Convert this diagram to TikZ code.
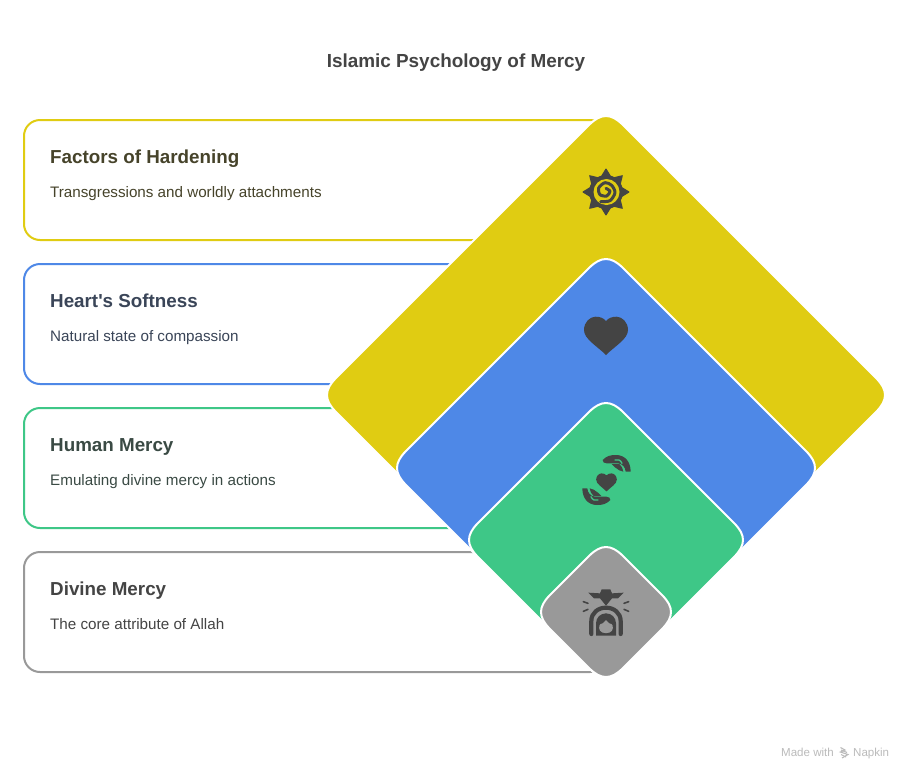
\documentclass[tikz,border=0pt]{standalone}
\usepackage{fontspec}
\setmainfont{Liberation Sans}
\newfontfamily\plainsans{Liberation Sans}
\definecolor{cyel}{HTML}{E0CC12}
\definecolor{cblu}{HTML}{4E88E7}
\definecolor{cgrn}{HTML}{3EC787}
\definecolor{cgry}{HTML}{999999}
\definecolor{icon}{HTML}{444444}
\definecolor{tyel}{HTML}{46432A}
\definecolor{tblu}{HTML}{3A4558}
\definecolor{tgrn}{HTML}{3A4A44}
\definecolor{tgry}{HTML}{444444}
\definecolor{wmark}{HTML}{BBBBBB}
\newcommand{\heartpath}{(0,20) .. controls (-9,11) and (-22,4) .. (-22,-5) .. controls (-22,-13) and (-16,-18.3) .. (-10.5,-18.3) .. controls (-6,-18.3) and (-2.5,-17) .. (0,-14) .. controls (2.5,-17) and (6,-18.3) .. (10.5,-18.3) .. controls (16,-18.3) and (22,-13) .. (22,-5) .. controls (22,4) and (9,11) .. (0,20) -- cycle}
\newcommand{\handpath}{(128,60) .. controls (140,48) and (150,45) .. (168,45) .. controls (195,45) and (212,65) .. (212,95) -- (197,95) .. controls (196,82) and (188,72) .. (175,70) -- (140,70) .. controls (132,70) and (128,66) .. (128,60) -- cycle}
\newcommand{\handicon}{%
\fill[icon] \handpath;
\fill[icon] (155,72) -- (178,72) .. controls (184,78) and (190,86) .. (190,95) -- (178,91) .. controls (170,85) and (160,80) .. (155,72) -- cycle;
\draw[cgrn,line width=1.3pt,line cap=round] (165,60) .. controls (172,56) and (182,60) .. (186,70);}
% soft diamond: centre x, centre y, half diagonal of the sharp shape, colour
\newcommand{\softdiamond}[4]{%
\pgfmathsetmacro{\da}{#3-17}\pgfmathsetmacro{\db}{#3-5}%
\begin{scope}[shift={(#1,#2)}]
\draw[dia=#4] (-17,-\da) .. controls (-5,-\db) and (5,-\db) .. (17,-\da) -- (\da,-17) .. controls (\db,-5) and (\db,5) .. (\da,17) -- (17,\da) .. controls (5,\db) and (-5,\db) .. (-17,\da) -- (-\da,17) .. controls (-\db,5) and (-\db,-5) .. (-\da,-17) -- cycle;
\end{scope}}
\tikzset{
  x=1pt,y=-1pt,
  cardbox/.style={draw=#1,line width=2pt,fill=white,rounded corners=16pt,minimum width=582pt,minimum height=120pt,inner sep=0pt},
  heading/.style={anchor=base west,inner sep=0pt,font=\plainsans\fontsize{18.8}{22}\selectfont\bfseries,text=#1},
  body/.style={anchor=base west,inner sep=0pt,font=\fontsize{15.2}{18}\selectfont,text=#1},
  dia/.style={fill=#1,draw=white,line width=2pt,line join=round},
  iconline/.style={draw=icon,line cap=round,line join=round},
  wmtext/.style={anchor=base west,inner sep=0pt,font=\fontsize{11.55}{13}\selectfont,text=wmark},
}
\begin{document}
\begin{tikzpicture}
\useasboundingbox (0,0) rectangle (914,780);
\fill[white] (0,0) rectangle (914,780);
\node[anchor=base,inner sep=0pt,font=\fontsize{18.9}{24}\selectfont\bfseries,text=icon] (title) at (456,67) {Islamic Psychology of Mercy};
% cards
\node[cardbox=cyel] (card1) at (315,180) {};
\node[cardbox=cblu] (card2) at (315,324) {};
\node[cardbox=cgrn] (card3) at (315,468) {};
\node[cardbox=cgry] (card4) at (315,612) {};
\node[heading=tyel] (h1) at (50,163) {Factors of Hardening};
\node[body=tyel] (b1) at (50,197) {Transgressions and worldly attachments};
\node[heading=tblu] (h2) at (50,307) {Heart's Softness};
\node[body=tblu] (b2) at (50,341) {Natural state of compassion};
\node[heading=tgrn] (h3) at (50,451) {Human Mercy};
\node[body=tgrn] (b3) at (50,485) {Emulating divine mercy in actions};
\node[heading=tgry] (h4) at (50,595) {Divine Mercy};
\node[body=tgry] (b4) at (50,629) {The core attribute of Allah};
% diamonds
\softdiamond{606}{395}{287}{cyel}
\softdiamond{606}{468}{217}{cblu}
\softdiamond{606}{540}{145}{cgrn}
\softdiamond{606}{612}{73}{cgry}
% sun icon
\begin{scope}[shift={(606,192)}]
\fill[icon,rounded corners=0.6pt] (0:24) -- (22.5:15.5) -- (45:24) -- (67.5:15.5) -- (90:24) -- (112.5:15.5) -- (135:24) -- (157.5:15.5) -- (180:24) -- (202.5:15.5) -- (225:24) -- (247.5:15.5) -- (270:24) -- (292.5:15.5) -- (315:24) -- (337.5:15.5) -- cycle;
\fill[icon] (0,0) circle (17);
\fill[cyel] (0.5,0) circle (13);
\end{scope}
\begin{scope}[shift={(560,150)},scale=1/3]
\draw[iconline,line width=3pt] plot[smooth] coordinates {(122,155) (150,152) (165,128) (155,106) (135,98) (116,114) (120,134) (140,138) (150,124) (138,115)};
\end{scope}
% heart icon
\fill[icon,shift={(606,335)}] \heartpath;
% hands icon
\fill[icon,shift={(606.5,482)},scale=0.47] \heartpath;
\begin{scope}[shift={(560,440)},scale=1/3]
\handicon
\end{scope}
\begin{scope}[shift={(653,520)},scale=-1/3]
\handicon
\end{scope}
% divine icon
\begin{scope}[shift={(530,540)},scale=1/3]
\fill[icon] (175,158) -- (210,160) -- (215,148) -- (241,148) -- (246,160) -- (281,158) -- (264,175) -- (246,175) -- (228,197) -- (210,175) -- (192,175) -- cycle;
\draw[iconline,line width=1.6pt] (160,185) -- (174,190) (160,214) -- (174,208) (296,185) -- (282,190) (296,214) -- (282,208);
\draw[icon,line width=4.2pt,line cap=round] (184,282) -- (184,243) .. controls (184,218) and (205,203) .. (228,203) .. controls (251,203) and (272,218) .. (272,243) -- (272,282);
\fill[icon] (198,287) -- (198,250) .. controls (198,232) and (212,220) .. (228,220) .. controls (244,220) and (258,232) .. (258,250) -- (258,287) -- cycle;
\fill[cgry] (210,272) .. controls (205,262) and (207,250) .. (218,250) -- (228,240) -- (238,250) .. controls (249,250) and (251,262) .. (246,272) .. controls (240,282) and (216,282) .. (210,272) -- cycle;
\end{scope}
% watermark
\node[wmtext] (made) at (781,756) {Made with};
\node[wmtext] (napkin) at (853,756) {Napkin};
\draw[wmark,line width=1.1pt] (840.5,747.5) -- (845,750) -- (840.5,752) -- (848,754.5) -- (842,758);
\draw[wmark,line width=1.1pt] (841,750) -- (847,752.5) (841,754.5) -- (846,757);
\end{tikzpicture}
\end{document}
